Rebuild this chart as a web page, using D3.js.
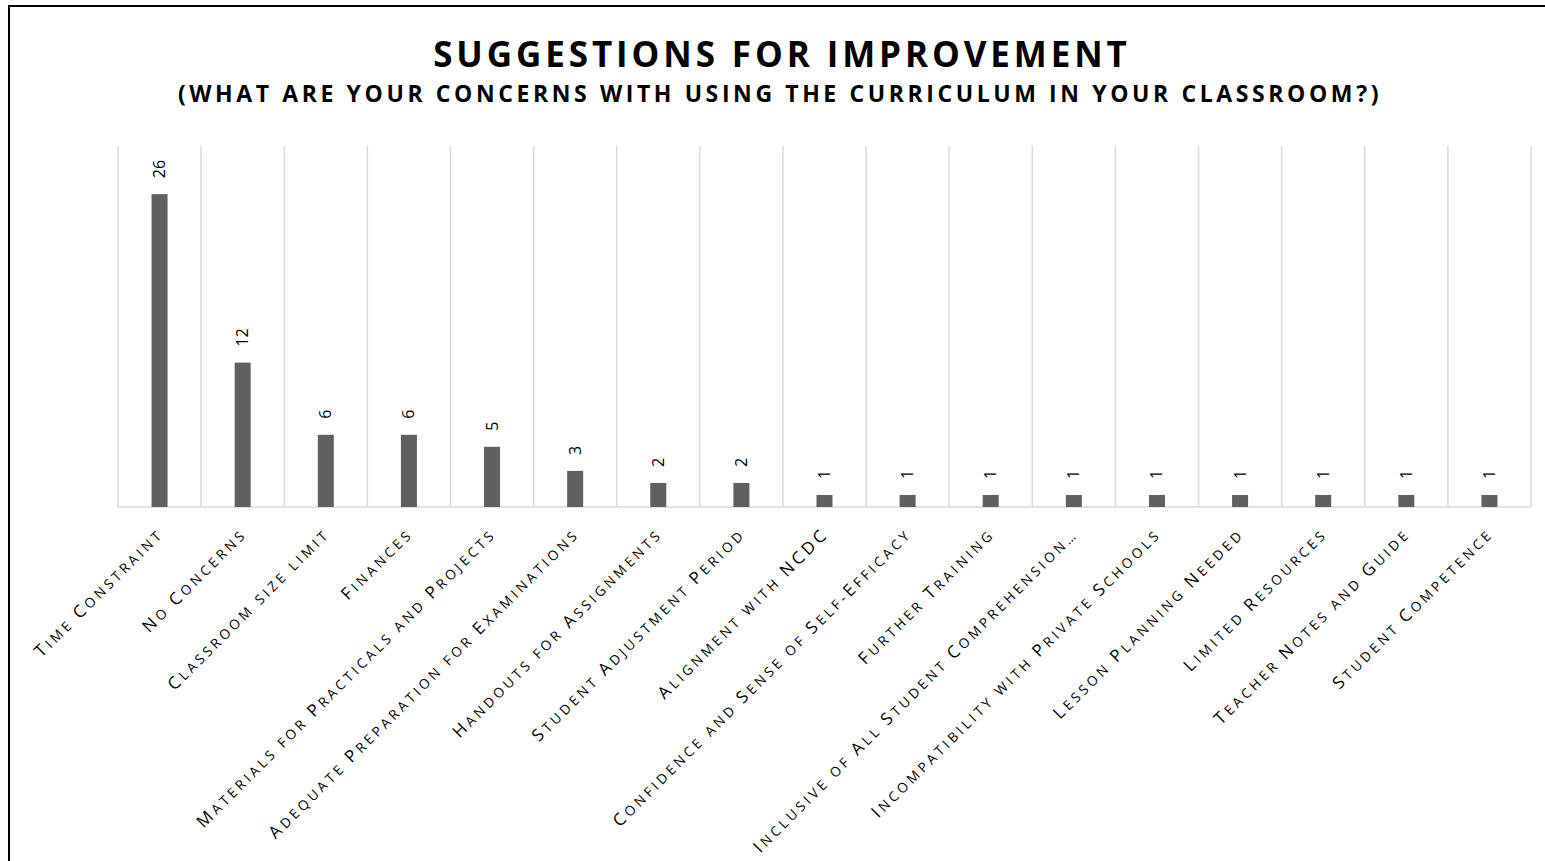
<!DOCTYPE html>
<html>
<head>
<meta charset="utf-8">
<script src="https://cdn.jsdelivr.net/npm/d3@7/dist/d3.min.js"></script>
<style>
  html, body { margin: 0; padding: 0; background: #fff; }
  svg { display: block; }
</style>
</head>
<body>
<svg id="chart" width="1545" height="861"></svg>
<script>
const categories = [
  "Time Constraint",
  "No Concerns",
  "Classroom size limit",
  "Finances",
  "Materials for Practicals and Projects",
  "Adequate Preparation for Examinations",
  "Handouts for Assignments",
  "Student Adjustment Period",
  "Alignment with NCDC",
  "Confidence and Sense of Self-Efficacy",
  "Further Training",
  "Inclusive of All Student Comprehension\u2026",
  "Incompatibility with Private Schools",
  "Lesson Planning Needed",
  "Limited Resources",
  "Teacher Notes and Guide",
  "Student Competence"
];
const counts = [26, 12, 6, 6, 5, 3, 2, 2, 1, 1, 1, 1, 1, 1, 1, 1, 1];
const yDomain = [0, 30];
const titleText = "SUGGESTIONS FOR IMPROVEMENT";
const subtitleText = "(WHAT ARE YOUR CONCERNS WITH USING THE CURRICULUM IN YOUR CLASSROOM?)";

const svg = d3.select("#chart");
const W = 1545, H = 861;
const plot = { left: 118, right: 1531, top: 146, bottom: 507 };

// outer border
svg.append("rect")
  .attr("x", 9).attr("y", 6)
  .attr("width", W + 10).attr("height", H + 10)
  .attr("fill", "#fff").attr("stroke", "#000").attr("stroke-width", 2);

// titles
svg.append("text")
  .attr("x", 782).attr("y", 67)
  .attr("text-anchor", "middle")
  .attr("font-family", "Open Sans")
  .attr("font-weight", 700)
  .attr("font-size", 35)
  .attr("letter-spacing", 3.9)
  .attr("fill", "#000")
  .text(titleText);

svg.append("text")
  .attr("x", 780).attr("y", 102)
  .attr("text-anchor", "middle")
  .attr("font-family", "Open Sans")
  .attr("font-weight", 700)
  .attr("font-size", 23)
  .attr("letter-spacing", 3.6)
  .attr("fill", "#000")
  .text(subtitleText);

const x = d3.scaleBand()
  .domain(categories)
  .range([plot.left, plot.right])
  .paddingInner(0).paddingOuter(0);

const y = d3.scaleLinear()
  .domain(yDomain)
  .range([plot.bottom, plot.top]);

// vertical gridlines at category boundaries
const bounds = categories.map(c => x(c)).concat([plot.right]);
svg.append("g").selectAll("line")
  .data(bounds)
  .join("line")
  .attr("x1", d => d).attr("x2", d => d)
  .attr("y1", y(yDomain[1])).attr("y2", y(0))
  .attr("stroke", "#d9d9d9").attr("stroke-width", 1.5);

// x axis baseline
svg.append("line")
  .attr("x1", plot.left).attr("x2", plot.right)
  .attr("y1", y(0)).attr("y2", y(0))
  .attr("stroke", "#d9d9d9").attr("stroke-width", 1.5);

// bars
const barW = 16;
svg.append("g").selectAll("rect")
  .data(categories)
  .join("rect")
  .attr("x", d => x(d) + x.bandwidth() / 2 - barW / 2)
  .attr("width", barW)
  .attr("y", (d, i) => y(counts[i]))
  .attr("height", (d, i) => y(0) - y(counts[i]))
  .attr("fill", "#606060");

// value labels
svg.append("g").selectAll("text")
  .data(categories)
  .join("text")
  .attr("transform", (d, i) => {
    const cx = x(d) + x.bandwidth() / 2 + 5.5;
    const cy = y(counts[i]) - 16;
    return `translate(${cx},${cy}) rotate(-90)`;
  })
  .attr("text-anchor", "start")
  .attr("font-family", "Open Sans")
  .attr("font-size", 16)
  .attr("fill", "#000")
  .text((d, i) => counts[i]);

// category labels with manual small caps
const capSize = 17, smallSize = 13.6;
function runs(s) {
  const out = [];
  let cur = null;
  for (const ch of s) {
    const big = ch !== ch.toLowerCase() || /[0-9]/.test(ch);
    const isSpace = ch === " ";
    const kind = isSpace ? (cur ? cur.kind : "small") : (big ? "big" : "small");
    if (!cur || cur.kind !== kind) { cur = { kind, text: "" }; out.push(cur); }
    cur.text += ch;
  }
  return out;
}
const labels = svg.append("g").selectAll("text")
  .data(categories)
  .join("text")
  .attr("transform", d => {
    const cx = x(d) + x.bandwidth() / 2 + 5;
    const cy = y(0) + 28;
    return `translate(${cx},${cy}) rotate(-45)`;
  })
  .attr("text-anchor", "end")
  .attr("font-family", "Open Sans")
  .attr("letter-spacing", 3.5)
  .attr("fill", "#000");
labels.selectAll("tspan")
  .data(d => runs(d))
  .join("tspan")
  .attr("font-size", r => r.kind === "big" ? capSize : smallSize)
  .text(r => r.text.toUpperCase());
</script>
</body>
</html>
